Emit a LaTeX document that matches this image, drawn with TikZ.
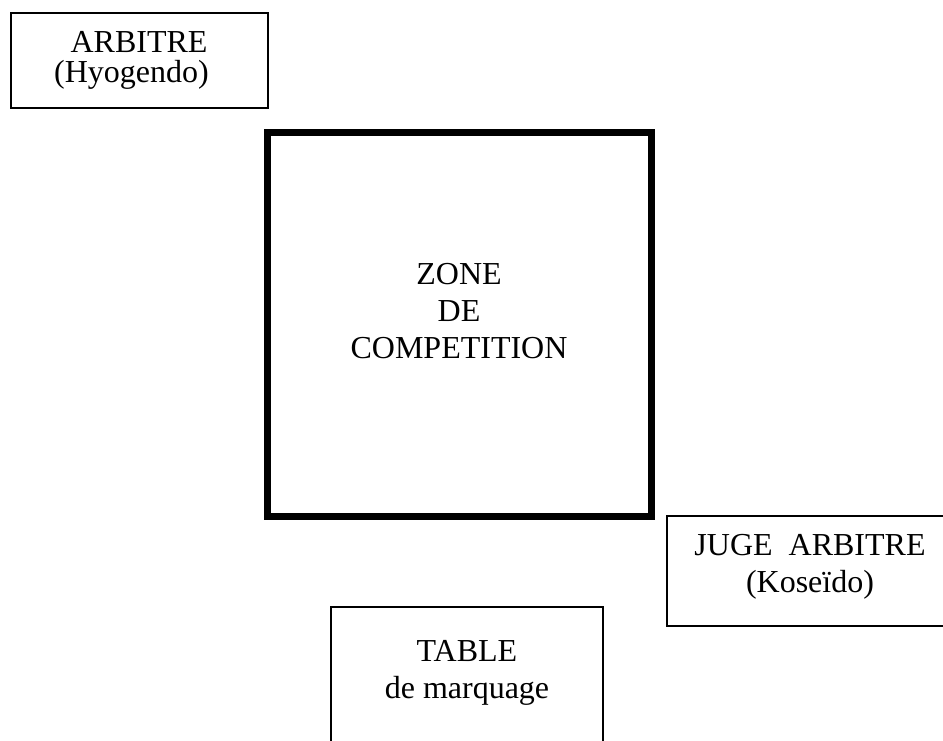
\documentclass[tikz,border=0pt]{standalone}
\usepackage{fontspec}
\setmainfont{Liberation Serif}
\tikzset{   box/.style = {draw, line width=0.75pt},
            zone/.style = {draw, line width=3.5pt},
            txt/.style = {anchor=base, align=center, inner sep=0pt, font=\fontsize{16}{18.5}\selectfont}}

\begin{document}
\begin{tikzpicture}[x=0.5pt, y=-0.5pt]
    \clip(0,0)rectangle(943,740);
    % arbitre en haut a gauche
    \draw[box](11,13)rectangle(268,108);
    \node[txt, font=\fontsize{16}{15}\selectfont](arb)at(139,82){ARBITRE\\(Hyogendo)\hspace*{7.5pt}};
    % zone de competition
    \draw[zone](267.5,132.5)rectangle(651.5,516.5);
    \node[txt](comp)at(459,358){ZONE\\DE\\COMPETITION};
    % juge arbitre, coupe a droite
    \draw[box](667,516)rectangle(980,626);
    \node[txt](juge)at(810,592){JUGE\ \ ARBITRE\\(Kose\"ido)};
    % table de marquage, coupee en bas
    \draw[box](331,607)rectangle(603,780);
    \node[txt](tab)at(467,698){TABLE\\de marquage};
\end{tikzpicture}
\end{document}
